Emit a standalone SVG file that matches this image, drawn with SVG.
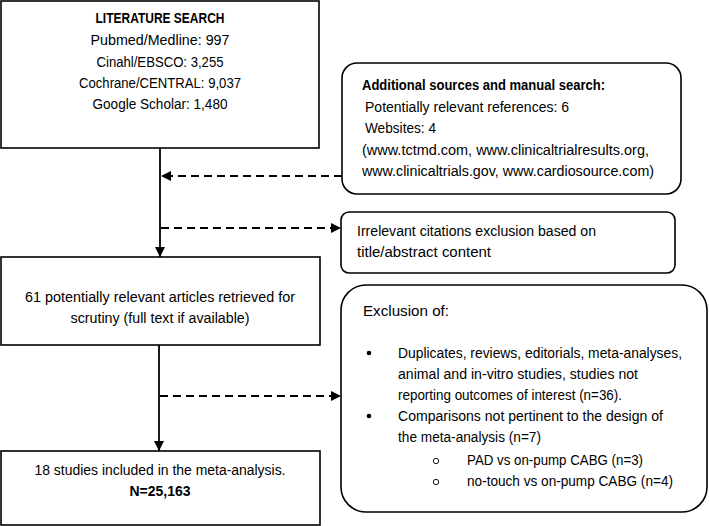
<svg xmlns="http://www.w3.org/2000/svg" width="709" height="526" viewBox="0 0 709 526">
<style>
  .box { fill: #fff; stroke: #000; stroke-width: 1.6; }
  text { font-family: "Liberation Sans", Arial, sans-serif; font-size: 14px; fill: #000; }
  .b { font-weight: bold; }
  .c { text-anchor: middle; }
  .solid { stroke: #000; stroke-width: 1.8; fill: none; }
  .dash { stroke: #000; stroke-width: 1.8; fill: none; stroke-dasharray: 8 5; }
</style>
<defs>
  <marker id="ah" viewBox="0 0 10 10" refX="10" refY="5" markerWidth="10" markerHeight="10" markerUnits="userSpaceOnUse" orient="auto">
    <path d="M0,0 L10,5 L0,10 Z" fill="#000"/>
  </marker>
</defs>
<rect width="709" height="526" fill="#fff"/>

<g id="connectors">
  <line class="solid" x1="160" y1="148" x2="160" y2="257" marker-end="url(#ah)"/>
  <line class="dash" x1="342" y1="176" x2="161" y2="176" marker-end="url(#ah)"/>
  <line class="dash" x1="161" y1="228" x2="341" y2="228" marker-end="url(#ah)"/>
  <line class="solid" x1="159" y1="345" x2="159" y2="451" marker-end="url(#ah)"/>
  <line class="dash" x1="160" y1="396" x2="341" y2="396" marker-end="url(#ah)"/>
</g>

<g id="literature-search">
  <rect class="box" x="1" y="1" width="318" height="147"/>
  <text class="b c" x="160" y="23" textLength="129" lengthAdjust="spacingAndGlyphs">LITERATURE SEARCH</text>
  <text class="c" x="160" y="45" textLength="139" lengthAdjust="spacingAndGlyphs">Pubmed/Medline: 997</text>
  <text class="c" x="160" y="67" textLength="127" lengthAdjust="spacingAndGlyphs">Cinahl/EBSCO: 3,255</text>
  <text class="c" x="160" y="88" textLength="162" lengthAdjust="spacingAndGlyphs">Cochrane/CENTRAL: 9,037</text>
  <text class="c" x="160" y="109" textLength="135" lengthAdjust="spacingAndGlyphs">Google Scholar: 1,480</text>
</g>

<g id="additional-sources">
  <rect class="box" x="342" y="63" width="339" height="131" rx="15" ry="15"/>
  <text class="b" x="362" y="90" textLength="243" lengthAdjust="spacingAndGlyphs">Additional sources and manual search:</text>
  <text x="365" y="112" textLength="204" lengthAdjust="spacingAndGlyphs">Potentially relevant references: 6</text>
  <text x="365" y="133" textLength="71" lengthAdjust="spacingAndGlyphs">Websites: 4</text>
  <text x="362" y="155" textLength="287" lengthAdjust="spacingAndGlyphs">(www.tctmd.com, www.clinicaltrialresults.org,</text>
  <text x="362" y="176" textLength="292" lengthAdjust="spacingAndGlyphs">www.clinicaltrials.gov, www.cardiosource.com)</text>
</g>

<g id="irrelevant">
  <rect class="box" x="341" y="212" width="334" height="61" rx="8" ry="8"/>
  <text x="357" y="236" textLength="239" lengthAdjust="spacingAndGlyphs">Irrelevant citations exclusion based on</text>
  <text x="357" y="257" textLength="134" lengthAdjust="spacingAndGlyphs">title/abstract content</text>
</g>

<g id="retrieved">
  <rect class="box" x="1" y="257" width="319" height="88"/>
  <text class="c" x="160" y="302" textLength="270" lengthAdjust="spacingAndGlyphs">61 potentially relevant articles retrieved for</text>
  <text class="c" x="160" y="323" textLength="179" lengthAdjust="spacingAndGlyphs">scrutiny (full text if available)</text>
</g>

<g id="exclusion">
  <rect class="box" x="341" y="285" width="366" height="227" rx="25" ry="25"/>
  <text x="363" y="316" textLength="86" lengthAdjust="spacingAndGlyphs">Exclusion of:</text>
  <circle cx="369" cy="353" r="2.3" fill="#000"/>
  <text x="398" y="358" textLength="284" lengthAdjust="spacingAndGlyphs">Duplicates, reviews, editorials, meta-analyses,</text>
  <text x="398" y="379" textLength="240" lengthAdjust="spacingAndGlyphs">animal and in-vitro studies, studies not</text>
  <text x="398" y="400" textLength="224" lengthAdjust="spacingAndGlyphs">reporting outcomes of interest (n=36).</text>
  <circle cx="369" cy="416" r="2.3" fill="#000"/>
  <text x="398" y="421" textLength="265" lengthAdjust="spacingAndGlyphs">Comparisons not pertinent to the design of</text>
  <text x="398" y="442" textLength="143" lengthAdjust="spacingAndGlyphs">the meta-analysis (n=7)</text>
  <circle cx="436" cy="461" r="2.7" fill="none" stroke="#000" stroke-width="0.9"/>
  <text x="467" y="465" textLength="176" lengthAdjust="spacingAndGlyphs">PAD vs on-pump CABG (n=3)</text>
  <circle cx="436" cy="482" r="2.7" fill="none" stroke="#000" stroke-width="0.9"/>
  <text x="467" y="486" textLength="206" lengthAdjust="spacingAndGlyphs">no-touch vs on-pump CABG (n=4)</text>
</g>

<g id="included">
  <rect class="box" x="1" y="451" width="319" height="74"/>
  <text class="c" x="160" y="475" textLength="251" lengthAdjust="spacingAndGlyphs">18 studies included in the meta-analysis.</text>
  <text class="b c" x="160" y="496" textLength="61" lengthAdjust="spacingAndGlyphs">N=25,163</text>
</g>
</svg>
